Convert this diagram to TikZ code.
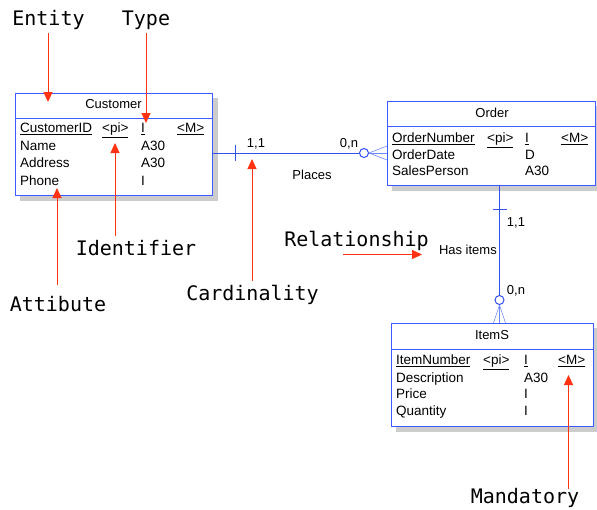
\documentclass[tikz,border=0pt]{standalone}
\usepackage{fontspec}
\setmainfont{Liberation Sans}
\newfontfamily\annotfont{DejaVu Sans Mono}
\usetikzlibrary{arrows.meta,calc}
\definecolor{boxblue}{RGB}{60,90,255}
\definecolor{linkblue}{RGB}{50,80,235}
\definecolor{footblue}{RGB}{110,135,255}
\definecolor{shadowgray}{RGB}{204,204,204}
\definecolor{annotred}{RGB}{255,51,17}
\tikzset{
  entbox/.style={draw=boxblue, line width=0.9pt, fill=white, inner sep=0pt, anchor=north west},
  hdrline/.style={draw=boxblue, line width=0.9pt},
  shadowbox/.style={fill=shadowgray},
  etitle/.style={inner sep=0pt, anchor=base, font=\fontsize{13}{15}\selectfont},
  attr/.style={inner sep=0pt, anchor=base west, font=\fontsize{13.5}{15}\selectfont},
  link/.style={draw=linkblue, line width=1pt},
  foot/.style={draw=footblue, line width=0.6pt},
  opt/.style={circle, draw=linkblue, line width=1pt, fill=white, inner sep=0pt, minimum size=9pt},
  card/.style={inner sep=0pt, anchor=base, font=\fontsize{13}{15}\selectfont},
  annot/.style={inner sep=0pt, anchor=base, font=\annotfont\fontsize{20}{24}\selectfont},
  redarrow/.style={draw=annotred, line width=1pt, -{Triangle[length=10pt,width=9pt]}}
}
\begin{document}
\begin{tikzpicture}[x=1pt,y=-1pt]
\useasboundingbox (0,0) rectangle (597,509);

% shadows
\fill[shadowgray] (20,98) rectangle (218,201);
\fill[shadowgray] (392,106) rectangle (599,191);
\fill[shadowgray] (396,328) rectangle (599,432);

% Customer entity
\node[entbox, minimum width=197pt, minimum height=102pt] (cust) at (15,93) {};
\draw[hdrline] ($(cust.north west)+(0,25)$) -- ($(cust.north east)+(0,25)$);
\node[etitle] (custT) at (113.5,108) {Customer};
\node[attr] (c1a) at (20,132.5) {\underline{CustomerID}};
\node[attr] (c1b) at (102,132.5) {\underline{<pi>}};
\node[attr] (c1c) at (141,132.5) {\underline{I}};
\node[attr] (c1d) at (177,132.5) {\underline{<M>}};
\node[attr] (c2a) at (20,150.5) {Name};
\node[attr] (c2c) at (141,150.5) {A30};
\node[attr] (c3a) at (20,167.5) {Address};
\node[attr] (c3c) at (141,167.5) {A30};
\node[attr] (c4a) at (20,185.5) {Phone};
\node[attr] (c4c) at (141,185.5) {I};

% Order entity
\node[entbox, minimum width=208pt, minimum height=84pt] (ord) at (387,101) {};
\draw[hdrline] ($(ord.north west)+(0,25)$) -- ($(ord.north east)+(0,25)$);
\node[etitle] (ordT) at (492,117.5) {Order};
\node[attr] (o1a) at (392,142.5) {\underline{OrderNumber}};
\node[attr] (o1b) at (487,142.5) {\underline{<pi>}};
\node[attr] (o1c) at (525,142.5) {\underline{I}};
\node[attr] (o1d) at (561,142.5) {\underline{<M>}};
\node[attr] (o2a) at (392,159.5) {OrderDate};
\node[attr] (o2c) at (525,159.5) {D};
\node[attr] (o3a) at (392,175.5) {SalesPerson};
\node[attr] (o3c) at (525,175.5) {A30};

% ItemS entity
\node[entbox, minimum width=202pt, minimum height=103pt] (item) at (391,323) {};
\draw[hdrline] ($(item.north west)+(0,26)$) -- ($(item.north east)+(0,26)$);
\node[etitle] (itemT) at (492,339.5) {ItemS};
\node[attr] (i1a) at (396,364.5) {\underline{ItemNumber}};
\node[attr] (i1b) at (483,364.5) {\underline{<pi>}};
\node[attr] (i1c) at (524,364.5) {\underline{I}};
\node[attr] (i1d) at (558,364.5) {\underline{<M>}};
\node[attr] (i2a) at (396,382) {Description};
\node[attr] (i2c) at (524,382) {A30};
\node[attr] (i3a) at (396,398.5) {Price};
\node[attr] (i3c) at (524,398.5) {I};
\node[attr] (i4a) at (396,415.5) {Quantity};
\node[attr] (i4c) at (524,415.5) {I};

% Places relationship (Customer - Order)
\node[opt] (optA) at (364,153) {};
\coordinate (tickA) at (235.5,153);
\draw[link] (cust.east |- optA) -- (optA.west);
\draw[link] ($(tickA)+(0,-8)$) -- ($(tickA)+(0,8)$);
\draw[foot] (optA.east) -- ($(ord.west |- optA)+(0,-7)$);
\draw[foot] (optA.east) -- (ord.west |- optA);
\draw[foot] (optA.east) -- ($(ord.west |- optA)+(0,7)$);
\node[card] (cardA1) at (256,147) {1,1};
\node[card] (cardA2) at (349,147) {0,n};
\node[card] (places) at (312,179) {Places};

% Has items relationship (Order - ItemS)
\node[opt] (optB) at (499.5,300) {};
\coordinate (tickB) at (499.5,209);
\draw[link] (ord.south -| optB) -- (optB.north);
\draw[link] ($(tickB)+(-7,0)$) -- ($(tickB)+(7,0)$);
\draw[foot] (optB.south) -- ($(item.north -| optB)+(-6,0)$);
\draw[foot] (optB.south) -- (item.north -| optB);
\draw[foot] (optB.south) -- ($(item.north -| optB)+(6,0)$);
\node[card] (cardB1) at (516,226) {1,1};
\node[card] (cardB2) at (516,294) {0,n};
\node[card, anchor=base east] (hasitems) at (497,254) {Has items};

% annotations
\node[annot] (lEntity) at (48.5,25) {Entity};
\node[annot] (lType) at (146,25) {Type};
\node[annot] (lIdent) at (136,255) {Identifier};
\node[annot] (lAttr) at (58,311) {Attibute};
\node[annot] (lCard) at (252.5,300) {Cardinality};
\node[annot] (lRel) at (356.5,246) {Relationship};
\node[annot] (lMand) at (525,503) {Mandatory};

\coordinate (tEntity) at (48,102);
\coordinate (tType) at (146,123);
\coordinate (tIdent) at (115,143);
\coordinate (tAttr) at (57,188);
\coordinate (tCard) at (252,159);
\coordinate (tRel) at (422,254.5);
\coordinate (tMand) at (568.5,375);

\draw[redarrow] (48,33) -- (tEntity);
\draw[redarrow] (146,33) -- (tType);
\draw[redarrow] (115,236) -- (tIdent);
\draw[redarrow] (57,285) -- (tAttr);
\draw[redarrow] (252,281) -- (tCard);
\draw[redarrow] (343,254.5) -- (tRel);
\draw[redarrow] (568.5,489) -- (tMand);
\end{tikzpicture}
\end{document}
